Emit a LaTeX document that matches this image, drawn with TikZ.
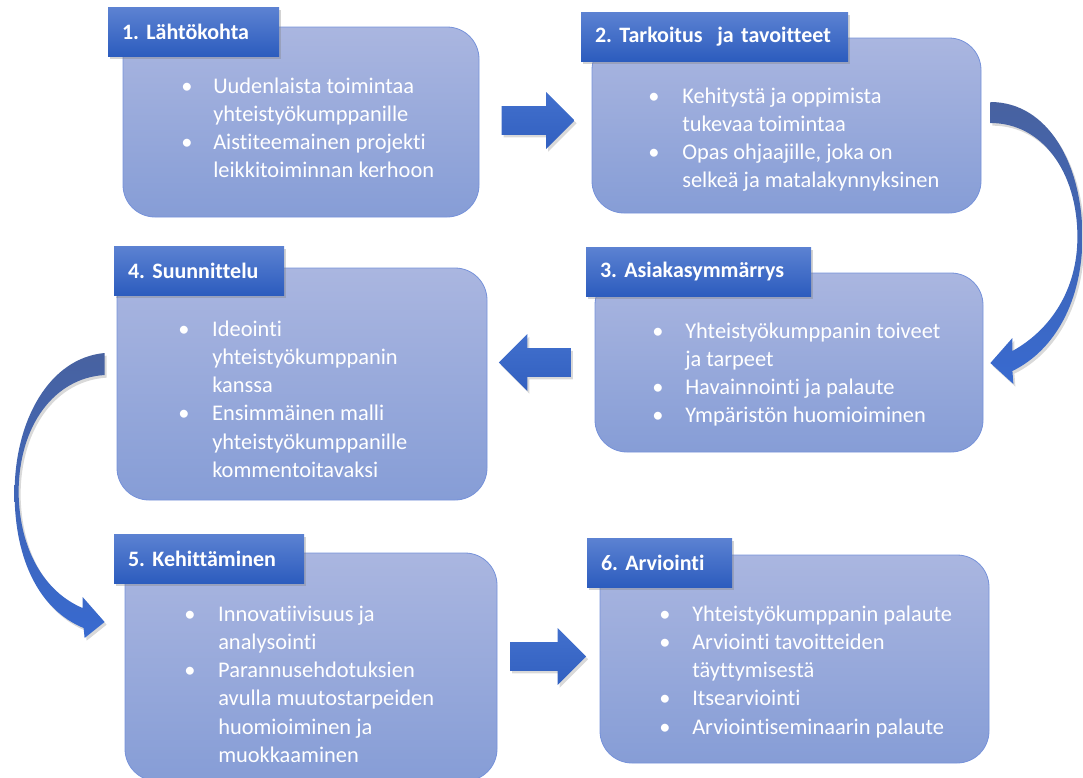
\documentclass[tikz,border=0pt]{standalone}
\usepackage{fontspec}
\setmainfont{Carlito}[Ligatures=NoCommon]
\frenchspacing
\usetikzlibrary{shapes.arrows,shadows,calc}

\definecolor{boxtop}{RGB}{170,182,224}
\definecolor{boxbot}{RGB}{134,157,214}
\definecolor{boxline}{RGB}{118,146,218}
\definecolor{tabtop}{RGB}{92,130,210}
\definecolor{tabbot}{RGB}{44,92,190}
\definecolor{arrowtop}{RGB}{66,112,205}
\definecolor{arrowbot}{RGB}{50,96,192}
\definecolor{curvetop}{RGB}{72,98,160}
\definecolor{curvebot}{RGB}{56,106,208}

\tikzset{
  stepbox/.style={rectangle, rounded corners=24pt, draw=boxline, line width=0.6pt,
    top color=boxtop, bottom color=boxbot, inner sep=0pt},
  steptab/.style={rectangle, top color=tabtop, bottom color=tabbot, text=white,
    font=\fontsize{16.5}{19}\selectfont\bfseries, text width=#1, align=left,
    inner xsep=10.5pt, minimum height=36.75pt,
    drop shadow={shadow xshift=1.5pt, shadow yshift=-2pt, opacity=.35}},
  steptext/.style={anchor=base west, inner sep=0pt, text=white,
    font=\fontsize{16.8}{21.2}\selectfont},
  bigarrow/.style={single arrow, single arrow head extend=10.6pt,
    text height=10.5pt, text depth=10.5pt, minimum height=#1, inner sep=0pt,
    top color=arrowtop, bottom color=arrowbot,
    drop shadow={shadow xshift=1.5pt, shadow yshift=-2pt, opacity=.3}},
  bendarrow/.style={top color=curvetop, bottom color=curvebot,
    drop shadow={shadow xshift=1.5pt, shadow yshift=-2pt, opacity=.3}}
}

\begin{document}
\begin{tikzpicture}[x=0.75pt, y=-0.75pt]
  \useasboundingbox (0,0) rectangle (1083,778);

  \node[stepbox, minimum width=267pt, minimum height=142.5pt] (b1) at (301,122) {};
  \node[stepbox, minimum width=291.75pt, minimum height=131.25pt] (b2) at (786.5,125.5) {};
  \node[stepbox, minimum width=291pt, minimum height=134.25pt] (b3) at (789,362.5) {};
  \node[stepbox, minimum width=277.5pt, minimum height=174pt] (b4) at (302,384) {};
  \node[stepbox, minimum width=279pt, minimum height=171pt] (b5) at (311,667) {};
  \node[stepbox, minimum width=291.75pt, minimum height=156pt] (b6) at (794.5,659) {};

  \node[steptab=107.25pt] (t1) at (193.5,32) {1. Lähtökohta};
  \node[steptab=179.25pt] (t2) at (714.5,36.5) {2. Tarkoitus\ \ ja tavoitteet};
  \node[steptab=147.75pt] (t3) at (698.5,271.5) {3. Asiakasymmärrys};
  \node[steptab=106.5pt] (t4) at (199,270.5) {4. Suunnittelu};
  \node[steptab=121.5pt] (t5) at (209,558.5) {5. Kehittäminen};
  \node[steptab=87.75pt] (t6) at (659.5,562.5) {6. Arviointi};

  \node[steptext] (x1) at (181,93) {\begin{tabular}[t]{@{}p{24pt}@{}l@{}}
    \textbullet & Uudenlaista toimintaa\\
    & yhteistyökumppanille\\
    \textbullet & Aistiteemainen projekti\\
    & leikkitoiminnan kerhoon
  \end{tabular}};
  \node[steptext] (x2) at (648,103) {\begin{tabular}[t]{@{}p{25.5pt}@{}l@{}}
    \textbullet & Kehitystä ja oppimista\\
    & tukevaa toimintaa\\
    \textbullet & Opas ohjaajille, joka on\\
    & selkeä ja matalakynnyksinen
  \end{tabular}};
  \node[steptext] (x3) at (652,338) {\begin{tabular}[t]{@{}p{24.75pt}@{}l@{}}
    \textbullet & Yhteistyökumppanin toiveet\\
    & ja tarpeet\\
    \textbullet & Havainnointi ja palaute\\
    \textbullet & Ympäristön huomioiminen
  \end{tabular}};
  \node[steptext] (x4) at (178,336) {\begin{tabular}[t]{@{}p{25.5pt}@{}l@{}}
    \textbullet & Ideointi\\
    & yhteistyökumppanin\\
    & kanssa\\
    \textbullet & Ensimmäinen malli\\
    & yhteistyökumppanille\\
    & kommentoitavaksi
  \end{tabular}};
  \node[steptext] (x5) at (184,621) {\begin{tabular}[t]{@{}p{25.5pt}@{}l@{}}
    \textbullet & Innovatiivisuus ja\\
    & analysointi\\
    \textbullet & Parannusehdotuksien\\
    & avulla muutostarpeiden\\
    & huomioiminen ja\\
    & muokkaaminen
  \end{tabular}};
  \node[steptext] (x6) at (659,621) {\begin{tabular}[t]{@{}p{24.75pt}@{}l@{}}
    \textbullet & Yhteistyökumppanin palaute\\
    \textbullet & Arviointi tavoitteiden\\
    & täyttymisestä\\
    \textbullet & Itsearviointi\\
    \textbullet & Arviointiseminaarin palaute
  \end{tabular}};

  \node[bigarrow=54.75pt] (a12) at (531,120.5) {};
  \node[bigarrow=54pt, shape border rotate=180] (a34) at (542,362.5) {};
  \node[bigarrow=57pt] (a56) at (541,656.5) {};

  \coordinate (c23) at ($(b2.east)+(9,-13)$);
  \coordinate (c45) at ($(b4.west)+(-12,-20)$);

  \path[bendarrow, shift={(c23)}] (0,-10.5)
    .. controls (58,-10.5) and (92,52.5) .. (92,124.5)
    .. controls (92,187.5) and (65,237.5) .. (22,258.5)
    -- (23,271.5) -- (0,250.5) -- (22,225.5) -- (22,238.5)
    .. controls (60,217.5) and (87,177.5) .. (87,124.5)
    .. controls (87,59.5) and (52,10.5) .. (0,10.5) -- cycle;

  \path[bendarrow, shift={(c45)}] (0,-11)
    .. controls (-55,-6) and (-90,56) .. (-90,129)
    .. controls (-90,196) and (-65,246) .. (-21,264)
    -- (-20,274) -- (0,258) -- (-22,233) -- (-22,244)
    .. controls (-60,228) and (-85,186) .. (-86,129)
    .. controls (-86,61) and (-50,14) .. (0,11) -- cycle;
\end{tikzpicture}
\end{document}
